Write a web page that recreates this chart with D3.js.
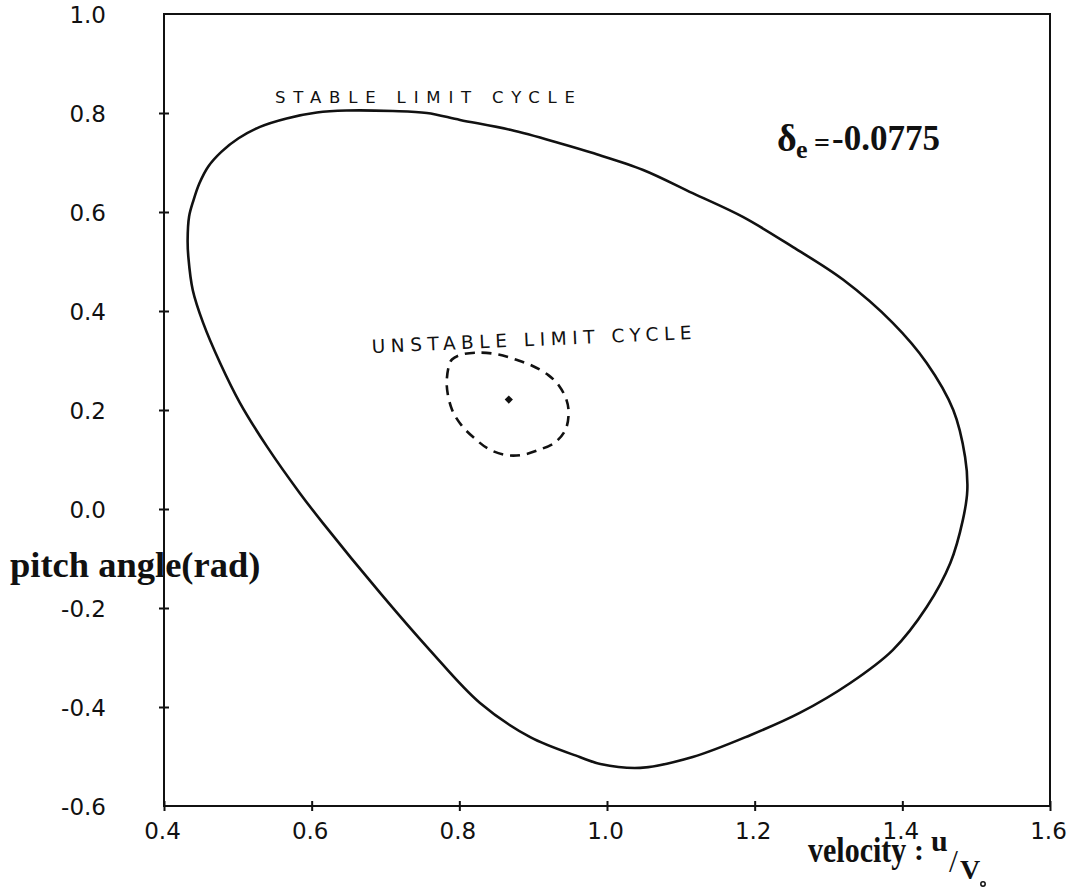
<!DOCTYPE html>
<html><head><meta charset="utf-8">
<script src="https://cdn.jsdelivr.net/npm/d3@7"></script>
<style>body{margin:0;background:#fff}svg{display:block}</style>
</head><body>
<svg id="c" width="1077" height="893"></svg>
<script>
// ---- data ----
const xTicks = [0.4, 0.6, 0.8, 1.0, 1.2, 1.4, 1.6];
const xTickLabels = ["0.4", "0.6", "0.8", "1.0", "1.2", "1.4", "1.6"];
const yTicks = [-0.6, -0.4, -0.2, 0.0, 0.2, 0.4, 0.6, 0.8, 1.0];
const yTickLabels = ["-0.6", "-0.4", "-0.2", "0.0", "0.2", "0.4", "0.6", "0.8", "1.0"];
// stable limit cycle (u/V0, pitch angle), clockwise from the top
const stableU = [0.647,0.710,0.756,0.801,0.869,0.936,0.981,1.049,1.116,1.184,1.252,1.320,1.387,1.433,1.469,1.485,1.488,1.482,1.465,1.433,1.387,1.329,1.261,1.194,1.116,1.045,0.991,0.963,0.896,0.828,0.760,0.693,0.615,0.584,0.540,0.503,0.476,0.453,0.439,0.433,0.432,0.434,0.440,0.448,0.460,0.478,0.501,0.530,0.566,0.607];
const stableTheta = [0.805,0.804,0.800,0.786,0.766,0.739,0.719,0.685,0.638,0.590,0.529,0.463,0.376,0.295,0.200,0.105,0.038,-0.022,-0.109,-0.198,-0.285,-0.352,-0.412,-0.457,-0.501,-0.523,-0.515,-0.501,-0.461,-0.392,-0.285,-0.170,-0.028,0.032,0.125,0.214,0.295,0.376,0.442,0.509,0.543,0.591,0.624,0.658,0.692,0.722,0.749,0.772,0.789,0.801];
// unstable limit cycle
const unstableU = [0.803,0.830,0.853,0.876,0.898,0.921,0.935,0.945,0.948,0.944,0.930,0.907,0.884,0.863,0.840,0.822,0.803,0.790,0.783,0.786,0.790];
const unstableTheta = [0.312,0.316,0.312,0.302,0.290,0.270,0.249,0.221,0.195,0.161,0.135,0.119,0.109,0.109,0.121,0.141,0.169,0.201,0.249,0.290,0.302];
// equilibrium point
const eqU = [0.867];
const eqTheta = [0.221];
const labels = { stable: "STABLE LIMIT CYCLE", unstable: "UNSTABLE LIMIT CYCLE", delta: "-0.0775" };

// ---- drawing ----
const svg = d3.select("#c");
const x = d3.scaleLinear().domain([0.4, 1.6]).range([164, 1050]);
const y = d3.scaleLinear().domain([-0.6, 1.0]).range([806, 14]);
const ink = "#111";

// frame
svg.append("rect").attr("x", x(0.4)).attr("y", y(1.0))
  .attr("width", x(1.6) - x(0.4)).attr("height", y(-0.6) - y(1.0))
  .attr("fill", "none").attr("stroke", ink).attr("stroke-width", 2);

// bottom axis
const xAxis = d3.axisBottom(x).tickValues(xTicks).tickSize(0).tickPadding(0)
  .tickFormat((d, i) => xTickLabels[i]);
const gx = svg.append("g").attr("transform", `translate(0,${y(-0.6)})`).call(xAxis);
gx.select(".domain").remove();
gx.selectAll(".tick text").attr("y", 33).attr("dy", 0).attr("dx", -2)
  .attr("font-family", "DejaVu Sans").attr("font-size", 23).attr("fill", ink);
gx.selectAll(".tick").append("line").attr("y1", -5).attr("y2", 5)
  .attr("stroke", ink).attr("stroke-width", 2);

// left axis
const yAxis = d3.axisLeft(y).tickValues(yTicks).tickSize(0).tickPadding(0)
  .tickFormat((d, i) => yTickLabels[i]);
const gy = svg.append("g").attr("transform", `translate(${x(0.4)},0)`).call(yAxis);
gy.select(".domain").remove();
gy.selectAll(".tick text").attr("x", -58).attr("dy", "0.36em")
  .attr("font-family", "DejaVu Sans").attr("font-size", 23).attr("fill", ink);
gy.selectAll(".tick").filter(d => d > -0.6 && d < 1.0).append("line").attr("x1", -5).attr("x2", 5)
  .attr("stroke", ink).attr("stroke-width", 2);

// stable cycle
const stable = stableU.map((u, i) => [u, stableTheta[i]]);
const line = d3.line().x(d => x(d[0])).y(d => y(d[1])).curve(d3.curveCatmullRomClosed.alpha(0.5));
svg.append("path").attr("d", line(stable)).attr("fill", "none")
  .attr("stroke", ink).attr("stroke-width", 2.6).attr("stroke-linejoin", "round");

// unstable cycle
const unstable = unstableU.map((u, i) => [u, unstableTheta[i]]);
svg.append("path").attr("d", line(unstable)).attr("fill", "none")
  .attr("stroke", ink).attr("stroke-width", 2.6).attr("stroke-dasharray", "10,7");

// equilibrium
svg.selectAll(".eq").data(eqU.map((u, i) => [u, eqTheta[i]])).enter()
  .append("path").attr("d", d3.symbol(d3.symbolSquare, 34))
  .attr("transform", d => `translate(${x(d[0])},${y(d[1])}) rotate(45)`).attr("fill", ink);

// curve labels
svg.append("text").attr("x", 275).attr("y", 103).attr("textLength", 300)
  .attr("lengthAdjust", "spacing").attr("font-family", "DejaVu Sans").attr("font-size", 16.5)
  .attr("fill", ink).text(labels.stable);
svg.append("text").attr("transform", "translate(372,353) rotate(-2.5)")
  .attr("textLength", 320).attr("lengthAdjust", "spacing")
  .attr("font-family", "DejaVu Sans").attr("font-size", 18.5).attr("fill", ink).text(labels.unstable);

// delta annotation
const dt = svg.append("g").attr("font-family", "Liberation Serif").attr("font-weight", "bold").attr("fill", ink);
dt.append("text").attr("x", 777).attr("y", 151).attr("font-size", 38).text("δ");
dt.append("text").attr("x", 796).attr("y", 158).attr("font-size", 26).text("e");
dt.append("text").attr("x", 814).attr("y", 152).attr("font-size", 28).text("=");
dt.append("text").attr("x", 832).attr("y", 150).attr("font-size", 35).text(labels.delta);

// axis titles
const tt = svg.append("g").attr("font-family", "Liberation Serif").attr("font-weight", "bold").attr("fill", ink);
tt.append("text").attr("x", 10).attr("y", 577).attr("font-size", 36.5).text("pitch angle(rad)");
tt.append("text").attr("transform", "translate(808,862) scale(1,1.2)").attr("font-size", 30).text("velocity");
tt.append("text").attr("x", 914).attr("y", 860).attr("font-size", 30).text(":");
tt.append("text").attr("x", 931).attr("y", 851).attr("font-size", 30).text("u");
tt.append("text").attr("x", 949).attr("y", 872).attr("font-size", 32).attr("font-weight", "normal").text("/");
tt.append("text").attr("x", 960).attr("y", 879).attr("font-size", 28).text("V");
tt.append("circle").attr("cx", 983).attr("cy", 884).attr("r", 2.2).attr("fill", "none")
  .attr("stroke", ink).attr("stroke-width", 1.5);
</script>
</body></html>
